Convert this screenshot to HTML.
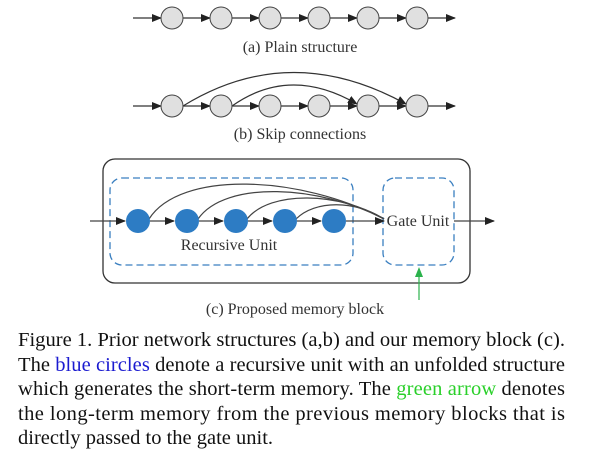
<!DOCTYPE html>
<html><head><style>body{margin:0;background:#fff}svg{display:block}</style></head><body>
<svg width="606" height="451" xmlns="http://www.w3.org/2000/svg" font-family="Liberation Serif, serif">
<defs>
<marker id="a" markerWidth="10" markerHeight="8" refX="9" refY="4" orient="auto" markerUnits="userSpaceOnUse"><path d="M0,0L10,4L0,8z" fill="#222"/></marker>
</defs>
<g stroke="#333" stroke-width="1.2" fill="none">
<line x1="133" y1="18" x2="161" y2="18" marker-end="url(#a)"/>
<line x1="183" y1="18" x2="210" y2="18" marker-end="url(#a)"/>
<line x1="232" y1="18" x2="259" y2="18" marker-end="url(#a)"/>
<line x1="281" y1="18" x2="308" y2="18" marker-end="url(#a)"/>
<line x1="330" y1="18" x2="357" y2="18" marker-end="url(#a)"/>
<line x1="379" y1="18" x2="406" y2="18" marker-end="url(#a)"/>
<line x1="428" y1="18" x2="455" y2="18" marker-end="url(#a)"/>
<line x1="133" y1="106" x2="161" y2="106" marker-end="url(#a)"/>
<line x1="183" y1="106" x2="210" y2="106" marker-end="url(#a)"/>
<line x1="232" y1="106" x2="259" y2="106" marker-end="url(#a)"/>
<line x1="281" y1="106" x2="308" y2="106" marker-end="url(#a)"/>
<line x1="330" y1="106" x2="357" y2="106" marker-end="url(#a)"/>
<line x1="379" y1="106" x2="406" y2="106" marker-end="url(#a)"/>
<line x1="428" y1="106" x2="455" y2="106" marker-end="url(#a)"/>
<path d="M183,106 Q290,40 406,104" marker-end="url(#a)"/>
<path d="M232,106 Q290,65 357,104" marker-end="url(#a)"/>
</g>
<g fill="#e0e0e0" stroke="#444" stroke-width="1">
<circle cx="172" cy="18" r="11"/><circle cx="221" cy="18" r="11"/><circle cx="270" cy="18" r="11"/><circle cx="319" cy="18" r="11"/><circle cx="368" cy="18" r="11"/><circle cx="417" cy="18" r="11"/>
<circle cx="172" cy="106" r="11"/><circle cx="221" cy="106" r="11"/><circle cx="270" cy="106" r="11"/><circle cx="319" cy="106" r="11"/><circle cx="368" cy="106" r="11"/><circle cx="417" cy="106" r="11"/>
</g>
<text x="300" y="52" font-size="16" text-anchor="middle" fill="#333">(a) Plain structure</text>
<text x="300" y="139" font-size="16" text-anchor="middle" fill="#333">(b) Skip connections</text>
<rect x="103" y="159" width="367" height="124" rx="12" fill="none" stroke="#333" stroke-width="1.3"/>
<rect x="110" y="178" width="243" height="87" rx="12" fill="none" stroke="#3a7fc0" stroke-width="1.3" stroke-dasharray="7,4"/>
<rect x="383" y="178" width="71" height="87" rx="12" fill="none" stroke="#3a7fc0" stroke-width="1.3" stroke-dasharray="7,4"/>
<g stroke="#444" stroke-width="1.2" fill="none">
<line x1="90" y1="221" x2="125" y2="221" marker-end="url(#a)"/>
<line x1="150" y1="221" x2="174" y2="221" marker-end="url(#a)"/>
<line x1="199" y1="221" x2="223" y2="221" marker-end="url(#a)"/>
<line x1="248" y1="221" x2="272" y2="221" marker-end="url(#a)"/>
<line x1="297" y1="221" x2="321" y2="221" marker-end="url(#a)"/>
<line x1="346" y1="221" x2="384" y2="221" marker-end="url(#a)"/>
<line x1="454" y1="221" x2="494" y2="221" marker-end="url(#a)"/>
<path d="M149,219 C180,170 300,175 384,219"/>
<path d="M198,219 C225,180 320,185 384,219"/>
<path d="M247,219 C270,190 340,192 384,219"/>
<path d="M296,219 C315,200 355,200 384,219"/>
</g>
<g fill="#2d7cc4"><circle cx="138" cy="221" r="12"/><circle cx="187" cy="221" r="12"/><circle cx="236" cy="221" r="12"/><circle cx="285" cy="221" r="12"/><circle cx="334" cy="221" r="12"/></g>
<text x="229" y="250" font-size="16" text-anchor="middle" fill="#333">Recursive Unit</text>
<text x="418" y="226" font-size="16" text-anchor="middle" fill="#333">Gate Unit</text>
<line x1="419" y1="300" x2="419" y2="270" stroke="#2bb24c" stroke-width="1.2"/>
<path d="M415,277L419,267L423,277z" fill="#2bb24c"/>
<text x="295" y="314" font-size="16" text-anchor="middle" fill="#333">(c) Proposed memory block</text>
<g font-size="20.5" fill="#111">
<text x="18" y="346" textLength="547" lengthAdjust="spacingAndGlyphs">Figure 1. Prior network structures (a,b) and our memory block (c).</text>
<text x="18" y="371" textLength="547" lengthAdjust="spacing">The <tspan fill="#1a1ad0">blue circles</tspan> denote a recursive unit with an unfolded structure</text>
<text x="18" y="395" textLength="547" lengthAdjust="spacing">which generates the short-term memory. The <tspan fill="#2ad02a">green arrow</tspan> denotes</text>
<text x="18" y="420" textLength="547" lengthAdjust="spacing">the long-term memory from the previous memory blocks that is</text>
<text x="18" y="444">directly passed to the gate unit.</text>
</g>
</svg>
</body></html>
